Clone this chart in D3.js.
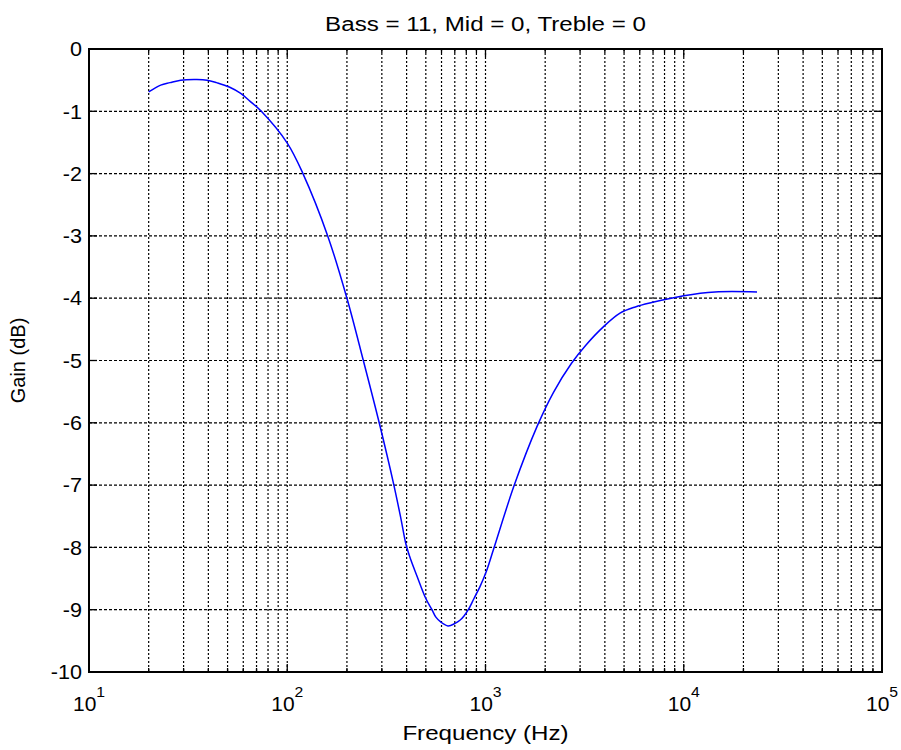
<!DOCTYPE html>
<html>
<head>
<meta charset="utf-8">
<script src="https://cdn.jsdelivr.net/npm/d3@7"></script>
<style>
  html, body { margin: 0; padding: 0; background: #fff; }
  svg { display: block; font-family: "Liberation Sans", Arial, Helvetica, sans-serif; }
</style>
</head>
<body>
<svg id="chart" width="901" height="750"></svg>
<script>
// ---- data ----
const titleText = "Bass = 11, Mid = 0, Treble = 0";
const xLabelText = "Frequency (Hz)";
const yLabelText = "Gain (dB)";

const freqHz = [20, 23, 25.6, 29, 35, 39.4, 44, 51, 58, 65, 74, 100, 120, 160, 200, 242, 291, 345, 375, 397, 420, 450, 500, 537, 562, 596, 647, 702, 743, 779, 819, 875, 938, 1006, 1098, 1397, 1825, 2203, 2721, 3214, 3929, 4769, 5700, 6891, 10000, 14380, 23420];
const gainDb = [-0.69, -0.58, -0.54, -0.50, -0.49, -0.50, -0.54, -0.61, -0.71, -0.84, -1.00, -1.51, -2.00, -3.00, -4.00, -5.00, -6.00, -7.00, -7.55, -7.95, -8.20, -8.45, -8.82, -9.00, -9.12, -9.20, -9.26, -9.22, -9.17, -9.10, -9.00, -8.82, -8.63, -8.40, -8.03, -7.00, -6.05, -5.51, -5.04, -4.75, -4.46, -4.24, -4.14, -4.07, -3.96, -3.90, -3.90];

const xTickExponents = [1, 2, 3, 4, 5];
const yTicks = [0, -1, -2, -3, -4, -5, -6, -7, -8, -9, -10];
const xDomain = [10, 100000];
const yDomain = [-10, 0];

// ---- layout ----
const L = 89, R = 882, T = 49, B = 672;
const svg = d3.select("#chart");
const x = d3.scaleLog().domain(xDomain).range([L, R]);
const y = d3.scaleLinear().domain(yDomain).range([B, T]);

const gridX = [];
xTickExponents.slice(0, -1).forEach(e => {
  for (let k = 1; k <= 9; k++) gridX.push(k * Math.pow(10, e));
});
const majorX = xTickExponents.map(e => Math.pow(10, e));

const g = svg.append("g");

// vertical grid
g.selectAll("line.gx").data(gridX.filter(v => v > xDomain[0])).enter().append("line")
  .attr("x1", d => x(d)).attr("x2", d => x(d))
  .attr("y1", T).attr("y2", B)
  .attr("stroke", "#000").attr("stroke-width", 1.2).attr("stroke-dasharray", "2,2");

// horizontal grid
g.selectAll("line.gy").data(yTicks.filter(v => v > yDomain[0] && v < yDomain[1])).enter().append("line")
  .attr("x1", L).attr("x2", R)
  .attr("y1", d => y(d)).attr("y2", d => y(d))
  .attr("stroke", "#000").attr("stroke-width", 1.2).attr("stroke-dasharray", "3,2");

// ticks (inward, both sides)
const majLen = 8, minLen = 4;
gridX.forEach(v => {
  const len = majorX.includes(v) ? majLen : minLen;
  g.append("line").attr("x1", x(v)).attr("x2", x(v)).attr("y1", B).attr("y2", B - len).attr("stroke", "#000").attr("stroke-width", 1.3);
  g.append("line").attr("x1", x(v)).attr("x2", x(v)).attr("y1", T).attr("y2", T + len).attr("stroke", "#000").attr("stroke-width", 1.3);
});
yTicks.forEach(v => {
  g.append("line").attr("x1", L).attr("x2", L + majLen).attr("y1", y(v)).attr("y2", y(v)).attr("stroke", "#000").attr("stroke-width", 1.3);
  g.append("line").attr("x1", R).attr("x2", R - majLen).attr("y1", y(v)).attr("y2", y(v)).attr("stroke", "#000").attr("stroke-width", 1.3);
});

// curve
const line = d3.line()
  .x((d, i) => x(freqHz[i]))
  .y(d => y(d))
  .curve(d3.curveCatmullRom.alpha(0.5));
g.append("path").datum(gainDb)
  .attr("d", line)
  .attr("fill", "none").attr("stroke", "#0000ff").attr("stroke-width", 1.5);

// box
g.append("rect").attr("x", L).attr("y", T).attr("width", R - L).attr("height", B - T)
  .attr("fill", "none").attr("stroke", "#000").attr("stroke-width", 2);

// y tick labels
g.selectAll("text.yt").data(yTicks).enter().append("text")
  .attr("transform", d => `translate(${L - 7},${y(d)}) scale(1.08,1)`)
  .attr("dy", "0.36em")
  .attr("text-anchor", "end").attr("font-size", 20).attr("fill", "#000")
  .text(d => d === 0 ? "0" : "-" + Math.abs(d));

// x tick labels: 10^n
xTickExponents.forEach(e => {
  const t = g.append("text")
    .attr("transform", `translate(${x(Math.pow(10, e))},711) scale(1.05,1)`)
    .attr("text-anchor", "middle").attr("fill", "#000").attr("font-size", 20);
  t.append("tspan").text("10");
  t.append("tspan").attr("font-size", 15).attr("dy", -14).text(String(e));
});

// title
svg.append("text").attr("transform", `translate(${(L + R) / 2},31) scale(1.15,1)`)
  .attr("text-anchor", "middle")
  .attr("font-size", 21).attr("fill", "#000").text(titleText);

// x label
svg.append("text").attr("transform", `translate(${(L + R) / 2},740) scale(1.15,1)`)
  .attr("text-anchor", "middle")
  .attr("font-size", 21).attr("fill", "#000").text(xLabelText);

// y label
svg.append("text").attr("transform", `translate(25,${(T + B) / 2}) rotate(-90)`)
  .attr("text-anchor", "middle").attr("font-size", 20).attr("fill", "#000").text(yLabelText);
</script>
</body>
</html>
